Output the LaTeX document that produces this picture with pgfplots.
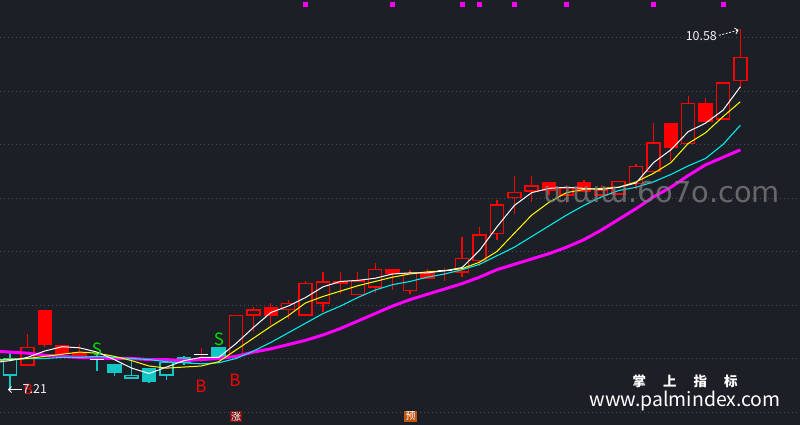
\documentclass[border=0pt]{standalone}
\usepackage{pgfplots}
\pgfplotsset{compat=1.18}
\usepackage{pgfplotstable}
\usetikzlibrary{arrows.meta}
\usepackage{fontspec}
\setmainfont{Noto Sans CJK SC}
\newfontfamily\wmfont{DejaVu Sans}

\definecolor{bgc}{RGB}{28,31,38}
\definecolor{gridc}{RGB}{72,77,88}
\definecolor{kred}{RGB}{255,0,0}
\definecolor{kcyan}{RGB}{20,198,198}
\definecolor{macyan}{RGB}{0,235,235}
\definecolor{mamag}{RGB}{255,0,255}
\definecolor{mayel}{RGB}{255,255,0}
\definecolor{sgreen}{RGB}{0,225,0}
\definecolor{zhang}{RGB}{130,20,20}
\definecolor{yu}{RGB}{190,85,12}

% candles: x = bar index, top/bot = body, hi/lo = wick
\pgfplotstableread{
x top bot hi lo
1 7.61 7.43 7.73 7.43
13 7.91 7.51 7.91 7.51
14 7.96 7.90 7.98 7.75
16 8.02 7.95 8.05 7.87
17 8.21 7.90 8.22 7.90
18 8.22 8.01 8.31 7.93
20 8.23 8.09 8.31 8.09
21 8.34 8.16 8.39 8.11
23 8.30 8.13 8.33 8.10
26 8.44 8.30 8.64 8.26
27 8.66 8.41 8.73 8.36
28 8.94 8.66 8.98 8.61
29 9.06 9.00 9.21 8.85
30 9.12 9.06 9.21 8.96
32 9.10 9.02 9.12 8.95
34 9.08 9.02 9.12 9.02
35 9.16 9.03 9.16 9.03
36 9.30 9.13 9.32 9.08
37 9.52 9.24 9.70 9.22
39 9.89 9.50 9.95 9.50
41 10.08 9.73 10.08 9.73
42 10.32 10.09 10.58 10.03
}\redhollow

\pgfplotstableread{
x top bot hi lo
2 7.95 7.63 7.95 7.61
3 7.63 7.54 7.63 7.54
4 7.56 7.52 7.64 7.52
15 7.98 7.90 8.02 7.81
19 8.22 8.20 8.31 8.10
22 8.34 8.29 8.34 8.14
24 8.30 8.24 8.34 8.24
31 9.15 9.07 9.15 9.03
33 9.15 9.06 9.17 9.06
38 9.70 9.47 9.70 9.35
40 9.89 9.71 9.93 9.71
}\redfilled

\pgfplotstableread{
x top bot hi lo
-1 7.41 7.35 7.43 7.33
0 7.50 7.34 7.56 7.21
7 7.35 7.31 7.50 7.31
9 7.47 7.34 7.47 7.30
10 7.51 7.46 7.52 7.44
}\cyanhollow

\pgfplotstableread{
x top bot hi lo
6 7.45 7.36 7.45 7.34
8 7.41 7.28 7.41 7.27
12 7.61 7.50 7.61 7.50
}\cyanfilled

\pgfplotstableread{
x mid hi lo
11 7.54 7.60 7.47
25 8.32 8.35 8.22
}\dojired

\pgfplotstableread{
x mid hi lo
5 7.49 7.53 7.38
}\dojicyan

% moving averages
\pgfplotstableread{
x ma5 ma10 ma20 ma60
-1 7.46 7.48 7.49 7.57
0 7.48 7.49 7.49 7.56
1 7.51 7.50 7.50 7.55
2 7.57 7.52 7.50 7.53
3 7.61 7.54 7.51 7.52
4 7.60 7.56 7.51 7.51
5 7.56 7.55 7.52 7.505
6 7.49 7.52 7.51 7.50
7 7.41 7.48 7.50 7.50
8 7.36 7.43 7.49 7.49
9 7.42 7.41 7.47 7.49
10 7.48 7.42 7.46 7.48
11 7.51 7.43 7.45 7.49
12 7.51 7.47 7.46 7.50
13 7.64 7.58 7.50 7.52
14 7.79 7.69 7.57 7.56
15 7.93 7.80 7.65 7.59
16 7.99 7.90 7.74 7.63
17 8.07 8.02 7.83 7.67
18 8.17 8.08 7.92 7.72
19 8.22 8.13 7.99 7.78
20 8.23 8.18 8.07 7.85
21 8.25 8.22 8.14 7.92
22 8.29 8.26 8.19 7.99
23 8.30 8.29 8.22 8.05
24 8.30 8.31 8.26 8.10
25 8.32 8.32 8.29 8.15
26 8.35 8.34 8.33 8.20
27 8.51 8.40 8.38 8.26
28 8.73 8.50 8.46 8.33
29 8.93 8.67 8.54 8.38
30 9.05 8.84 8.64 8.43
31 9.09 8.96 8.74 8.48
32 9.10 9.05 8.84 8.54
33 9.09 9.08 8.93 8.61
34 9.08 9.09 9.01 8.70
35 9.10 9.10 9.07 8.80
36 9.14 9.15 9.10 8.90
37 9.33 9.23 9.15 9.01
38 9.45 9.33 9.22 9.10
39 9.62 9.51 9.30 9.21
40 9.70 9.61 9.37 9.31
41 9.82 9.76 9.50 9.38
42 10.04 9.90 9.68 9.45
}\ma

\pgfplotsset{
  wick/.style={draw=none, mark=none, error bars/.cd, y dir=plus, y explicit,
    error mark=none, error bar style={draw=#1, line width=1.3bp}},
  body/.style 2 args={draw=none, mark=none, error bars/.cd, y dir=plus, y explicit,
    error mark=none, error bar style={draw=#1, line width=#2}},
}

\begin{document}
\begin{tikzpicture}
\begin{axis}[
  width=800bp, height=425bp, scale only axis,
  xmin=-0.575, xmax=45.43, ymin=6.8785, ymax=10.8505,
  axis background/.style={fill=bgc},
  axis line style={draw=none},
  xtick=\empty, ytick={7,7.5,...,10.5}, yticklabels={},
  major tick length=0pt,
  ymajorgrids, grid style={gridc, line width=0.8bp, dash pattern=on 1bp off 3bp},
]
\coordinate (sw) at (rel axis cs:0,0);
\coordinate (ne) at (rel axis cs:1,1);

% wicks
\addplot[wick=kred] table[x=x, y=lo, y error plus expr=\thisrow{hi}-\thisrow{lo}] {\redhollow};
\addplot[wick=kred] table[x=x, y=lo, y error plus expr=\thisrow{hi}-\thisrow{lo}] {\redfilled};
\addplot[wick=kcyan] table[x=x, y=lo, y error plus expr=\thisrow{hi}-\thisrow{lo}] {\cyanhollow};
\addplot[wick=kcyan] table[x=x, y=lo, y error plus expr=\thisrow{hi}-\thisrow{lo}] {\cyanfilled};
\addplot[wick=kred] table[x=x, y=lo, y error plus expr=\thisrow{hi}-\thisrow{lo}] {\dojired};
\addplot[wick=kcyan] table[x=x, y=lo, y error plus expr=\thisrow{hi}-\thisrow{lo}] {\dojicyan};

% bodies (hollow = outline then background-coloured core)
\addplot[body={kred}{14.5bp}] table[x=x, y=bot, y error plus expr=\thisrow{top}-\thisrow{bot}] {\redhollow};
\addplot[body={bgc}{11.5bp}] table[x=x, y expr=\thisrow{bot}+0.014, y error plus expr=\thisrow{top}-\thisrow{bot}-0.028] {\redhollow};
\addplot[body={kred}{14.5bp}] table[x=x, y=bot, y error plus expr=\thisrow{top}-\thisrow{bot}] {\redfilled};
\addplot[body={kcyan}{14.5bp}] table[x=x, y=bot, y error plus expr=\thisrow{top}-\thisrow{bot}] {\cyanhollow};
\addplot[body={bgc}{11.5bp}] table[x=x, y expr=\thisrow{bot}+0.014, y error plus expr=\thisrow{top}-\thisrow{bot}-0.028] {\cyanhollow};
\addplot[body={kcyan}{14.5bp}] table[x=x, y=bot, y error plus expr=\thisrow{top}-\thisrow{bot}] {\cyanfilled};
\addplot[only marks, mark=-, mark size=7bp, mark options={white, line width=1.2bp}] table[x=x, y=mid] {\dojired};
\addplot[only marks, mark=-, mark size=7bp, mark options={white, line width=1.2bp}] table[x=x, y=mid] {\dojicyan};

% moving averages
\addplot[mamag, line width=3bp] table[x=x, y=ma60] {\ma};
\addplot[macyan, line width=1.1bp] table[x=x, y=ma20] {\ma};
\addplot[mayel, line width=1bp] table[x=x, y=ma10] {\ma};
\addplot[white, line width=1bp] table[x=x, y=ma5] {\ma};

% signal dots along the top
\addplot[only marks, mark=square*, mark size=2bp, mamag] coordinates {
  (17,10.81) (22,10.81) (26,10.81) (27,10.81) (29,10.81) (32,10.81) (37,10.81) (41,10.81)};

% watermark
\node[text=gray, opacity=0.75, font=\wmfont\fontsize{29}{29}\selectfont] at (axis cs:37.49,9.06) {ɯɯɯ.6o7o.com};

% labels
\node[text=sgreen, font=\fontsize{17}{17}\selectfont] at (axis cs:5.0,7.59) {S};
\node[text=sgreen, font=\fontsize{17}{17}\selectfont] at (axis cs:12.02,7.68) {S};
\node[text=kred, font=\fontsize{17}{17}\selectfont] at (axis cs:10.98,7.24) {B};
\node[text=kred, font=\fontsize{17}{17}\selectfont] at (axis cs:12.94,7.30) {B};
\node[text=kred, inner sep=0pt, font=\fontsize{14}{14}\selectfont] at (axis cs:1.04,7.215) {B};
\node[text=white!90!gray, anchor=west, inner sep=0pt, font=\fontsize{12.5}{12.5}\selectfont] at (axis cs:0.72,7.21) {7.21};
\draw[white, line width=0.8bp, -{Straight Barb[length=3bp]}] (axis cs:0.69,7.21) -- (axis cs:-0.12,7.21);
\node[text=white!90!gray, anchor=east, inner sep=0pt, font=\fontsize{12.5}{12.5}\selectfont] at (axis cs:40.66,10.51) {10.58};
\draw[white, line width=0.8bp, dash pattern=on 2bp off 1.5bp, -{Straight Barb[length=3bp]}] (axis cs:40.77,10.52) -- (axis cs:41.9,10.57);

\node[fill=zhang, text=white, inner sep=1.2bp, font=\fontsize{10}{10}\selectfont] at (axis cs:13.0,6.96) {涨};
\node[fill=yu, text=white, inner sep=1.2bp, font=\fontsize{10}{10}\selectfont] at (axis cs:23.03,6.96) {预};

\node[text=white, inner sep=0pt, font=\bfseries\fontsize{13.5}{13.5}\selectfont] at (axis cs:38.82,7.285) {掌\hspace{17bp}上\hspace{17bp}指\hspace{17bp}标};
\node[text=white, inner sep=0pt, font=\fontsize{19.5}{19.5}\selectfont] at (axis cs:38.82,7.105) {www.palmindex.com};
\end{axis}
\pgfresetboundingbox
\useasboundingbox (sw) rectangle (ne);
\end{tikzpicture}
\end{document}
